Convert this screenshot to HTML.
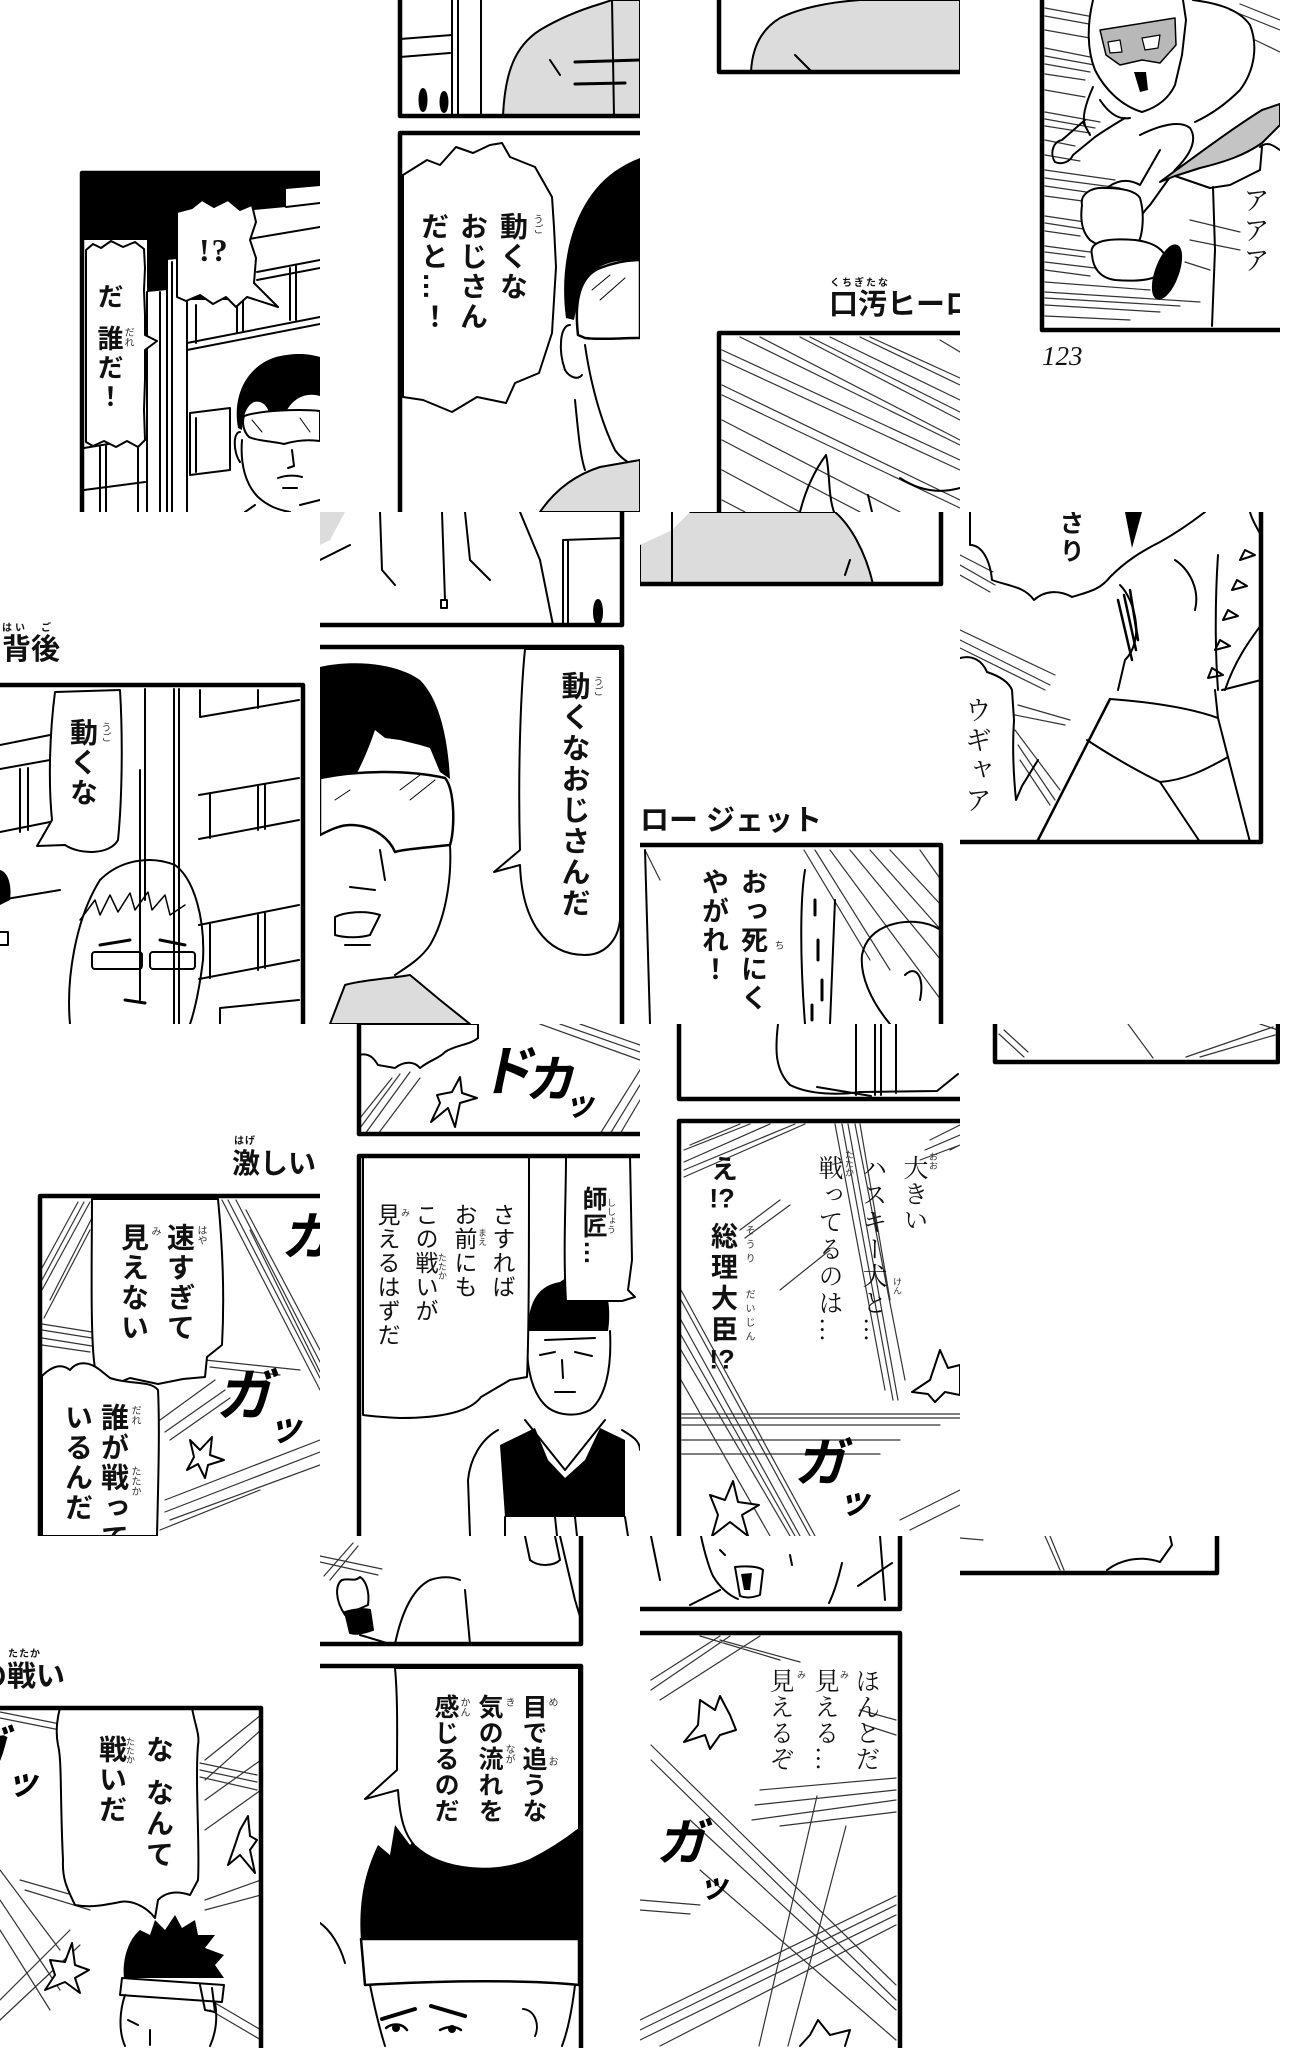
<!DOCTYPE html>
<html><head><meta charset="utf-8">
<style>
*{margin:0;padding:0}
html,body{width:1303px;height:2048px;background:#fff;overflow:hidden}
body{position:relative}
.t{position:absolute;width:320px;height:512px;overflow:hidden}
.i{position:absolute;width:1303px;height:2048px}
.i>svg{position:absolute;left:0;top:0}
.v{position:absolute;writing-mode:vertical-rl;white-space:nowrap;line-height:1;font-family:"Liberation Sans","Noto Sans CJK JP",sans-serif;color:#111}
.b{font-weight:700}
.m{font-family:"Liberation Serif","Noto Serif CJK SC",serif;font-weight:400}
.r{font-size:10px;color:#333;font-weight:400}
.h{position:absolute;white-space:nowrap;line-height:1;font-family:"Liberation Sans","Noto Sans CJK JP",sans-serif;font-weight:700;color:#111}
.x{position:absolute;white-space:nowrap;line-height:1;font-family:"Liberation Sans","Noto Sans CJK JP",sans-serif;font-weight:700;transform:skewX(-12deg);color:#000}
.s{stroke-width:1.2;stroke:#333}
.u{text-combine-upright:all}
</style></head><body>

<!-- ROW 0 -->
<div class="t" style="left:0;top:0"><div class="i" style="left:0;top:0">
<svg width="1303" height="2048" fill="none" stroke="#000" stroke-width="2" stroke-linejoin="round" stroke-linecap="round">
<path d="M82,173 L320,173 L320,186 L286,189 L286,207 L243,211 L243,300 L187,300 L187,258 L167,260 L167,290 L147,292 L147,240 L82,240 Z" fill="#000" stroke="none"/>
<path d="M243,211 L243,240 L320,227 M286,207 L320,203"/>
<path d="M257,272 L320,260 M257,280 L320,268 M187,343 L320,317 M187,350 L320,324"/>
<path d="M196,305 L196,343 M237,300 L237,333 M243,300 L243,332 M290,268 L290,320 M296,266 L296,320"/>
<path d="M167,260 L167,512 M187,258 L187,512 M172,262 L172,512 M147,292 L147,512 M160,292 L160,512"/>
<path d="M190,413 L230,408 L230,470 L190,475 Z M196,418 L196,472"/>
<path d="M84,448 L145,438 M84,490 L145,482 M100,447 L100,512 M106,446 L106,512 M138,440 L138,512"/>
<path d="M238,428 C232,395 247,366 276,357 C296,352 310,354 320,357 L320,396 C306,392 294,398 287,410 C282,420 276,430 270,433 L270,418 C269,406 262,400 254,402 C246,406 243,416 242,430 Z" fill="#000" stroke="none"/>
<path d="M244,416 C262,410 300,409 320,411 L320,441 C306,439 294,441 284,444 C272,441 257,441 249,437 C243,431 242,422 244,416 Z" fill="#fff"/>
<path d="M252,420 L262,432 M300,418 L310,432" stroke-width="1"/>
<path d="M240,432 C233,432 233,452 240,462 M242,440 C240,465 246,485 258,497 C268,506 278,510 290,512"/>
<path d="M292,450 L294,466 L288,468 M278,478 C286,475 296,475 302,477 M283,488 L297,488 M255,505 L245,512 M300,505 L320,500"/>
<path d="M86,250 L93,244 L101,248 L111,241 L123,247 L135,242 L144,249 L145,268 L144,290 L145,315 L145,335 L157,341 L145,350 L145,380 L144,410 L145,440 L138,447 L127,441 L116,447 L104,441 L93,446 L86,442 Z" fill="#fff"/>
<path d="M177,212 L192,208 L202,200 L214,207 L228,200 L240,210 L252,205 L256,222 L250,240 L256,258 L254,283 L278,307 L247,297 L236,307 L226,297 L213,304 L200,295 L186,301 L177,297 Z" fill="#fff"/>
<rect x="82" y="173" width="400" height="500" stroke-width="4.5"/>
</svg>
<div class="h" style="left:199px;top:234px;font-family:'Liberation Serif',serif;font-size:32px;letter-spacing:2px">!?</div>
<div class="v b" style="left:96px;top:283px;font-size:26px">だ</div>
<div class="v b" style="left:96px;top:325px;font-size:26px;letter-spacing:3px">誰だ！</div>
<div class="v r" style="left:122px;top:327px">だれ</div>
</div></div>

<div class="t" style="left:320px;top:0"><div class="i" style="left:-320px;top:0">
<svg width="1303" height="2048" fill="none" stroke="#000" stroke-width="2" stroke-linejoin="round" stroke-linecap="round">
<path d="M400,39 L452,35 M400,57 L450,53 M452,0 L452,116 M458,0 L458,116 M481,0 L481,116"/>
<ellipse cx="423" cy="100" rx="3.5" ry="11" fill="#000"/>
<ellipse cx="444" cy="102" rx="3.5" ry="10" fill="#000"/>
<path d="M503,116 C505,72 515,46 540,30 C560,18 580,10 600,4 L612,0 L640,0 L640,116 Z" fill="#dcdcdc"/>
<path d="M612,0 L614,116 M550,60 L560,75"/>
<path d="M575,62 L640,60 M575,84 L625,83" stroke-width="3"/>
<path d="M400,0 V116 H660" stroke-width="4.5"/>
<path d="M566,318 C558,260 575,195 620,168 C628,163 635,160 640,158 L640,262 C625,258 605,262 595,270 C585,280 578,300 574,320 Z" fill="#000" stroke="none"/>
<path d="M578,335 C574,300 580,276 600,268 C615,262 630,260 640,260 L640,338 C620,338 600,340 585,338 Z" fill="#fff" stroke-width="2.5"/>
<path d="M592,290 L610,275 M600,300 L625,278" stroke-width="1"/>
<path d="M570,325 C560,325 558,350 565,370 C570,378 578,380 582,375"/>
<path d="M585,345 C590,380 600,420 615,450 C622,460 632,465 640,468 M575,400 C578,430 580,455 585,470"/>
<path d="M540,512 C555,490 575,475 600,467 L640,460 L640,512 Z" fill="#dcdcdc"/>
<path d="M403,175 L427,160 L440,165 L456,147 L473,153 L490,145 L502,143 L510,157 L535,167 L552,197 L554,227 L556,267 L552,333 L539,373 L515,383 L506,403 L477,397 L452,412 L423,400 L403,397 Z" fill="#fff"/>
<rect x="400" y="133" width="400" height="500" stroke-width="4.5"/>
</svg>
<div class="v b" style="left:498px;top:212px;font-size:28px;letter-spacing:2px">動くな</div>
<div class="v b" style="left:458px;top:212px;font-size:28px;letter-spacing:2px">おじさん</div>
<div class="v b" style="left:419px;top:212px;font-size:28px;letter-spacing:2px">だと…！</div>
<div class="v r" style="left:531px;top:214px">うご</div>
</div></div>

<div class="t" style="left:640px;top:0"><div class="i" style="left:-640px;top:0">
<svg width="1303" height="2048" fill="none" stroke="#000" stroke-width="2" stroke-linejoin="round" stroke-linecap="round">
<path d="M751,72 C752,50 760,30 780,18 C800,8 830,2 860,0 L960,0 L960,72 Z" fill="#dcdcdc"/>
<path d="M795,55 L812,72"/>
<path d="M719,0 V72 H980" stroke-width="4.5"/>
<g class="s">
<path d="M722,360 L960,470 M722,385 L960,500 M722,420 L900,512 M760,337 L960,440 M800,337 L960,420 M810,337 L960,412 M830,337 L960,400 M722,470 L800,512 M722,500 L745,512 M860,337 L960,385 M870,337 L960,378 M940,340 L960,352 M722,440 L860,512 M722,395 L960,508 M740,337 L960,445 M722,350 L960,460"/>
</g>
<path d="M800,512 C806,488 815,470 826,455 C830,472 828,495 834,512 M868,495 L872,512 M900,478 C915,488 935,495 960,488"/>
<rect x="719" y="333" width="400" height="300" stroke-width="4.5"/>
</svg>
<div class="h" style="left:829px;top:291px;font-size:29px">口汚ヒーロ</div>
<div class="h r" style="left:830px;top:279px;letter-spacing:2px">くちぎたな</div>
</div></div>

<div class="t" style="left:960px;top:0"><div class="i" style="left:-960px;top:0">
<svg width="1303" height="2048" fill="none" stroke="#000" stroke-width="2" stroke-linejoin="round" stroke-linecap="round">
<g class="s">
<path d="M1045,8 L1110,20 M1045,16 L1100,26 M1045,48 L1095,58 M1045,56 L1100,66 M1045,64 L1090,72 M1045,74 L1085,80 M1045,112 L1100,122 M1045,119 L1095,128 M1045,126 L1090,133 M1045,170 L1115,180 M1045,178 L1120,188 M1045,186 L1100,194 M1045,196 L1090,202 M1045,216 L1085,222 M1045,223 L1090,230 M1045,231 L1080,236 M1045,246 L1090,252 M1045,252 L1085,257 M1045,262 L1095,268 M1045,270 L1090,276 M1045,292 L1200,302 M1045,298 L1180,306 M1045,305 L1160,312 M1045,316 L1130,320 M1230,10 L1280,30 M1240,4 L1280,20 M1255,40 L1280,52 M1190,220 L1240,232 M1190,240 L1240,250 M1185,262 L1210,270 M1045,30 L1090,38 M1045,90 L1085,97 M1045,140 L1075,146 M1045,155 L1080,161 M1045,282 L1150,290"/>
</g>
<path d="M1093,0 C1087,25 1087,50 1095,70 C1105,90 1122,106 1142,112 C1155,108 1168,100 1175,85 L1182,55 L1186,20 L1183,0" fill="#fff"/>
<path d="M1100,30 L1175,18 L1176,45 L1160,63 L1142,60 L1120,65 L1106,55 Z" fill="#b8b8b8" stroke-width="1.5"/>
<path d="M1108,42 L1120,40 L1122,52 L1110,53 Z M1142,38 L1160,35 L1158,48 L1145,50 Z" fill="#fff" stroke-width="1.2"/>
<path d="M1134,72 L1140,92 L1148,90 L1146,72 Z" fill="#000" stroke="none"/>
<path d="M1093,87 C1085,105 1082,118 1085,125 M1100,100 C1110,115 1120,120 1130,118"/>
<path d="M1085,120 L1062,140 C1052,142 1050,155 1055,162 C1062,165 1070,162 1073,155 L1095,137 C1105,130 1115,124 1125,118 M1083,122 L1090,135"/>
<path d="M1193,0 C1215,3 1238,8 1250,25 C1258,45 1255,70 1240,90 C1225,105 1210,115 1195,122"/>
<path d="M1140,135 C1160,125 1180,120 1190,128 C1198,140 1190,155 1175,170 L1150,205 C1140,215 1135,225 1140,235 M1105,190 C1115,180 1128,178 1140,185 L1160,150"/>
<path d="M1082,205 C1080,195 1090,187 1105,188 C1120,188 1135,190 1140,198 C1145,215 1143,240 1135,247 C1120,250 1100,248 1090,240 C1082,232 1080,220 1082,205 Z" fill="#fff"/>
<path d="M1092,255 C1088,240 1110,238 1135,240 C1160,243 1170,255 1165,268 C1160,280 1140,282 1115,280 C1100,278 1093,268 1092,255 Z" fill="#fff"/>
<ellipse cx="1167" cy="272" rx="11" ry="28" transform="rotate(20 1167 272)" fill="#000"/>
<path d="M1160,182 C1190,160 1230,130 1262,110 L1280,104 L1280,125 L1262,143 C1245,155 1225,162 1200,168 L1175,176 Z" fill="#c4c4c4"/>
<path d="M1213,187 L1215,250 L1212,326 M1260,147 C1268,140 1275,147 1280,150 M1175,176 L1210,188 L1230,185 L1260,170 L1262,147"/>
<path d="M1042,0 V330 H1290" stroke-width="4.5"/>
</svg>
<div class="v m" style="left:1240px;top:186px;font-size:27px;letter-spacing:3px">アアア</div>
<div class="h" style="left:1042px;top:343px;font-family:'Liberation Serif',serif;font-weight:400;font-style:italic;font-size:27px">123</div>
</div></div>

<!-- ROW 1 -->
<div class="t" style="left:0;top:512px"><div class="i" style="left:0;top:-512px">
<svg width="1303" height="2048" fill="none" stroke="#000" stroke-width="2" stroke-linejoin="round" stroke-linecap="round">
<path d="M200,690 L200,717 L299,700 M258,690 L258,708"/>
<path d="M199,795 L299,778 M199,839 L299,820 M210,793 L210,838 M258,786 L258,830 M265,785 L265,829"/>
<path d="M199,925 L299,905 M199,979 L299,960 M210,923 L210,978 M258,915 L258,970 M265,913 L265,968"/>
<path d="M220,1024 L220,1008 L299,1000"/>
<path d="M145,689 L145,900 M174,689 L174,1024 M179,689 L179,1024 M140,770 L140,1000"/>
<path d="M0,745 L50,735 M0,769 L50,760 M0,832 L50,822 M20,769 L20,832 M28,768 L28,830 M0,900 L60,890"/>
<path d="M0,870 C8,872 12,885 10,900 L0,905 Z" fill="#000" stroke="none"/>
<path d="M0,932 L8,932 L8,945 L0,945"/>
<path d="M70,1024 C66,980 75,920 100,880 C120,860 150,855 175,865 C195,880 205,920 203,960 C200,985 195,1010 190,1024"/>
<path d="M80,920 L95,900 L100,915 L110,895 L118,912 L130,893 L135,910 L148,892 L152,910 L165,895 L170,915 L185,905" stroke-width="1.5"/>
<rect x="92" y="952" width="50" height="17" rx="3"/>
<rect x="150" y="952" width="45" height="17" rx="3"/>
<path d="M100,945 L130,940 M160,940 L185,945 M125,1000 L145,1003" stroke-width="3"/>
<path d="M55,692 L120,690 C123,740 122,800 118,840 C110,855 80,855 65,845 L37,846 L52,820 C48,780 50,730 55,692 Z" fill="#fff"/>
<path d="M0,685 H303 V1100" stroke-width="4.5"/>
</svg>
<div class="h" style="left:2px;top:636px;font-size:29px">背後</div>
<div class="h r" style="left:2px;top:624px;letter-spacing:3px">はい　ご</div>
<div class="v b" style="left:68px;top:718px;font-size:28px;letter-spacing:2px">動くな</div>
<div class="v r" style="left:99px;top:722px">うご</div>
</div></div>

<div class="t" style="left:320px;top:512px"><div class="i" style="left:-320px;top:-512px">
<svg width="1303" height="2048" fill="none" stroke="#000" stroke-width="2" stroke-linejoin="round" stroke-linecap="round">
<path d="M320,512 L345,512 L330,540 L320,545 Z" fill="#dcdcdc" stroke="none"/>
<path d="M350,545 L320,560 M380,512 L382,570 L395,585 M465,512 L470,560 L490,580 M442,512 L445,600 M520,512 L540,560 L553,625 M563,540 L563,625 M568,540 L568,625 M563,540 L622,538"/>
<rect x="441" y="600" width="6" height="8"/>
<ellipse cx="598" cy="612" rx="4" ry="12" fill="#000"/>
<rect x="200" y="400" width="422" height="225" stroke-width="4.5"/>
<path d="M320,667 C350,660 395,662 420,680 C440,700 448,740 450,779 L440,772 L430,748 L420,745 L400,740 L385,738 L375,730 C365,760 350,790 332,812 L320,820 Z" fill="#000" stroke="none"/>
<path d="M320,778 C360,770 410,770 445,778 C455,790 455,830 450,845 C420,848 400,850 395,852 C390,840 375,825 350,825 C340,825 330,830 320,835 Z" fill="#fff" stroke-width="2.5"/>
<path d="M400,790 L420,775 M410,800 L435,780 M335,800 L350,790" stroke-width="1"/>
<path d="M380,850 L385,880 M350,887 L375,890 M335,917 C345,912 365,910 380,915 L370,935 C360,938 345,938 335,935 Z M345,945 L370,945"/>
<path d="M450,845 C452,880 445,920 430,945 C420,960 405,968 395,975"/>
<path d="M330,1024 L345,985 C360,980 395,978 410,975 L440,1000 L470,1024 Z" fill="#dcdcdc"/>
<path d="M525,649 C520,700 518,780 520,850 L494,872 L520,865 C522,920 545,955 585,955 C605,955 618,940 620,920 L620,649 Z" fill="#fff"/>
<rect x="200" y="647" width="422" height="500" stroke-width="4.5"/>
</svg>
<div class="v b" style="left:558px;top:671px;font-size:29px;letter-spacing:2px">動くなおじさんだ</div>
<div class="v r" style="left:591px;top:676px">うご</div>
</div></div>

<div class="t" style="left:640px;top:512px"><div class="i" style="left:-640px;top:-512px">
<svg width="1303" height="2048" fill="none" stroke="#000" stroke-width="2" stroke-linejoin="round" stroke-linecap="round">
<path d="M640,512 L835,512 C850,525 865,550 873,584 L640,584 Z" fill="#dcdcdc"/>
<path d="M640,512 L690,512 L672,530 L640,545 Z" fill="#fff" stroke="none"/>
<path d="M672,512 L672,584 M850,560 L845,575"/>
<rect x="500" y="400" width="441" height="184" stroke-width="4.5"/>
<g class="s">
<path d="M804,850 L870,960 M815,850 L890,970 M830,850 L941,1000 M850,850 L941,960 M870,850 L941,930 M890,850 L941,905 M920,850 L941,880 M645,850 L660,880"/>
</g>
<path d="M890,1024 C870,1000 860,975 862,955 C865,940 875,930 890,925 C905,920 925,920 941,930 M905,975 C915,965 925,975 920,1000"/>
<path d="M805,870 C800,900 800,960 805,1024 M835,900 L830,1024 M645,850 L650,1024"/>
<path d="M815,900 L815,915 M818,940 L818,960 M822,980 L822,1000 M812,1005 L812,1020" stroke-width="3"/>
<rect x="500" y="845" width="441" height="400" stroke-width="4.5"/>
</svg>
<div class="h" style="left:640px;top:807px;font-size:29px">ロー ジェット</div>
<div class="v b" style="left:738px;top:868px;font-size:27px;letter-spacing:2px">おっ死にく</div>
<div class="v b" style="left:699px;top:868px;font-size:27px;letter-spacing:2px">やがれ！</div>
<div class="v r" style="left:772px;top:940px">ち</div>
</div></div>

<div class="t" style="left:960px;top:512px"><div class="i" style="left:-960px;top:-512px">
<svg width="1303" height="2048" fill="none" stroke="#000" stroke-width="2" stroke-linejoin="round" stroke-linecap="round">
<g class="s">
<path d="M960,555 L993,572 M960,565 L995,585 M960,575 L990,592 M960,630 L1055,675 M960,640 L1050,685 M960,648 L1045,690 M1018,705 L1070,720 M1015,715 L1065,725 M1015,730 L1060,790 M1018,745 L1055,800 M1020,760 L1050,805"/>
</g>
<path d="M970,512 L970,545 C982,545 990,560 992,580 C1008,586 1024,586 1034,600 C1045,590 1060,590 1072,597 C1088,592 1100,590 1110,577 C1125,562 1140,552 1160,542 C1178,532 1192,522 1205,512"/>
<path d="M960,658 C972,655 982,660 987,672 C996,675 1008,680 1012,690 L1014,720 C1012,750 1014,780 1016,800 L1022,786 L1038,760"/>
<path d="M1125,512 L1142,512 L1132,548 Z" fill="#000" stroke="none"/>
<path d="M1118,600 L1132,660 M1124,595 L1136,650 M1130,590 L1138,640" stroke-width="2.5"/>
<path d="M1110,699 L1037,842" stroke-width="2.5"/>
<path d="M1110,699 C1150,702 1190,708 1218,718 L1228,757 C1205,770 1185,780 1160,782 C1135,770 1105,752 1087,740"/>
<path d="M1160,782 L1200,842 M1228,757 L1250,842 M1218,718 L1215,690 M1218,555 C1215,600 1215,650 1218,690"/>
<path d="M1120,585 C1135,600 1145,640 1125,660 L1118,690 M1175,560 C1190,570 1200,590 1195,610"/>
<path d="M1240,560 L1255,555 L1245,550 Z M1232,590 L1247,586 L1237,580 Z M1223,620 L1238,616 L1228,610 Z M1215,650 L1230,646 L1220,640 Z M1208,678 L1223,675 L1212,668 Z"/>
<path d="M1225,690 C1235,660 1250,640 1261,625 M1222,690 L1261,680 M1250,512 C1252,520 1258,530 1261,535"/>
<rect x="900" y="400" width="361" height="442" stroke-width="4.5"/>
</svg>
<div class="v b" style="left:1057px;top:510px;font-size:25px;letter-spacing:3px">さり</div>
<div class="v m" style="left:962px;top:696px;font-size:27px;letter-spacing:3px">ウギャア</div>
</div></div>

<!-- ROW 2 -->
<div class="t" style="left:0;top:1024px"><div class="i" style="left:0;top:-1024px">
<svg width="1303" height="2048" fill="none" stroke="#000" stroke-width="2" stroke-linejoin="round" stroke-linecap="round">
<g class="s">
<path d="M90,1202 L42,1290 M84,1202 L42,1280 M78,1202 L42,1268 M96,1210 L50,1300 M90,1230 L44,1318 M42,1324 L92,1332 M42,1330 L92,1338 M42,1338 L92,1346 M42,1345 L90,1352 M222,1200 L320,1390 M228,1200 L320,1378 M236,1200 L320,1362 M246,1210 L320,1350 M250,1230 L320,1372 M160,1420 L215,1380 M165,1432 L225,1390 M170,1440 L230,1398 M165,1500 L320,1440 M165,1512 L320,1452 M170,1520 L320,1465 M160,1530 L260,1490 M205,1360 L300,1370 M210,1367 L280,1375"/>
</g>
<path d="M92,1199 L218,1199 C222,1240 225,1290 222,1345 L207,1357 L205,1377 L183,1379 L158,1384 L130,1378 L115,1384 C105,1385 100,1375 95,1368 C90,1340 92,1250 92,1199 Z" fill="#fff"/>
<path d="M42,1376 C50,1368 60,1362 70,1370 C78,1360 90,1362 100,1370 L110,1378 C130,1385 150,1380 158,1390 C160,1430 158,1490 157,1536 L42,1536 Z" fill="#fff"/>
<path d="M190,1440 L200,1450 L212,1437 L210,1455 L224,1460 L208,1465 L205,1478 L198,1464 L187,1470 L194,1457 Z" fill="#fff"/>
<rect x="40" y="1196" width="400" height="500" stroke-width="4.5"/>
</svg>
<div class="h" style="left:232px;top:1150px;font-size:28px">激しい</div>
<div class="h r" style="left:234px;top:1137px;letter-spacing:1px">はげ</div>
<div class="v b" style="left:165px;top:1223px;font-size:28px;letter-spacing:2px">速すぎて</div>
<div class="v b" style="left:119px;top:1223px;font-size:28px;letter-spacing:2px">見えない</div>
<div class="v r" style="left:195px;top:1225px">はや</div>
<div class="v r" style="left:149px;top:1226px">み</div>
<div class="v b" style="left:99px;top:1403px;font-size:28px;letter-spacing:2px">誰が戦って</div>
<div class="v b" style="left:63px;top:1403px;font-size:28px;letter-spacing:2px">いるんだ</div>
<div class="v r" style="left:129px;top:1405px">だれ</div>
<div class="v r" style="left:129px;top:1466px">たたか</div>
<div class="x" style="left:284px;top:1212px;font-size:52px">カ</div>
<div class="x" style="left:220px;top:1368px;font-size:56px">ガ</div>
<div class="x" style="left:270px;top:1410px;font-size:36px">ッ</div>
</div></div>

<div class="t" style="left:320px;top:1024px"><div class="i" style="left:-320px;top:-1024px">
<svg width="1303" height="2048" fill="none" stroke="#000" stroke-width="2" stroke-linejoin="round" stroke-linecap="round">
<g class="s">
<path d="M410,1072 L365,1134 M400,1074 L360,1128 M392,1078 L360,1118 M420,1078 L378,1134 M540,1024 L640,1060 M560,1024 L640,1052 M580,1024 L640,1045 M600,1134 L640,1070 M610,1134 L640,1085 M620,1134 L640,1100"/>
</g>
<path d="M359,1024 L478,1024 L478,1038 C470,1045 455,1045 445,1052 C440,1058 430,1060 420,1068 C415,1062 405,1060 395,1068 L378,1065 C375,1060 370,1052 359,1055 Z" fill="#fff"/>
<path d="M437,1095 L452,1092 L460,1077 L462,1093 L477,1098 L460,1103 L455,1127 L448,1108 L431,1122 L440,1103 Z" fill="#fff"/>
<rect x="359" y="900" width="400" height="234" stroke-width="4.5"/>
<path d="M528,1331 C528,1300 540,1285 560,1282 C575,1270 600,1275 605,1290 C610,1300 610,1320 608,1331 Z" fill="#000" stroke="none"/>
<path d="M528,1331 C525,1360 530,1390 545,1405 C555,1415 575,1418 590,1410 C605,1398 612,1370 610,1331"/>
<path d="M540,1355 L555,1352 M575,1352 L592,1356 M562,1360 L563,1378 M555,1392 L575,1392 M545,1340 L595,1338" />
<path d="M525,1420 L565,1470 L605,1420 M498,1430 C480,1440 470,1460 468,1480 L470,1536 M622,1430 C630,1435 640,1440 640,1450"/>
<path d="M500,1445 L535,1428 L548,1460 L565,1478 L585,1460 L600,1428 L625,1440 L625,1517 L505,1517 Z" fill="#000" stroke="none"/>
<path d="M505,1517 L505,1536 M555,1517 L557,1536 M575,1517 L577,1536 M625,1517 L628,1536"/>
<path d="M363,1156 L529,1156 C529,1250 529,1330 527,1377 L510,1380 L481,1397 C470,1412 440,1418 400,1418 C380,1417 370,1416 363,1415 Z" fill="#fff"/>
<path d="M566,1156 L630,1156 L632,1260 L628,1290 L635,1297 L622,1301 L566,1301 C563,1250 566,1200 566,1156 Z" fill="#fff"/>
<rect x="359" y="1156" width="400" height="500" stroke-width="4.5"/>
</svg>
<div class="x" style="left:483px;top:1045px;font-size:54px">ド</div>
<div class="x" style="left:528px;top:1055px;font-size:50px">カ</div>
<div class="x" style="left:566px;top:1088px;font-size:32px">ッ</div>
<div class="v" style="left:490px;top:1203px;font-size:23px;letter-spacing:1px">さすれば</div>
<div class="v" style="left:452px;top:1203px;font-size:23px;letter-spacing:1px">お前にも</div>
<div class="v" style="left:413px;top:1203px;font-size:23px;letter-spacing:1px">この戦いが</div>
<div class="v" style="left:375px;top:1203px;font-size:23px;letter-spacing:1px">見えるはずだ</div>
<div class="v r" style="left:477px;top:1228px;font-size:9px">まえ</div>
<div class="v r" style="left:437px;top:1253px;font-size:9px">たたか</div>
<div class="v r" style="left:400px;top:1208px;font-size:9px">み</div>
<div class="v b" style="left:580px;top:1186px;font-size:25px;letter-spacing:2px">師匠…</div>
<div class="v r" style="left:606px;top:1198px;font-size:9px">ししょう</div>
</div></div>

<div class="t" style="left:640px;top:1024px"><div class="i" style="left:-640px;top:-1024px">
<svg width="1303" height="2048" fill="none" stroke="#000" stroke-width="2" stroke-linejoin="round" stroke-linecap="round">
<path d="M778,1024 C775,1050 775,1070 790,1085 C810,1095 840,1095 860,1092 L937,1091 L958,1074 M856,1024 L856,1095 M875,1024 L875,1095 M881,1024 L881,1095 M896,1024 L896,1093 M817,1087 L871,1096"/>
<rect x="679" y="900" width="400" height="199" stroke-width="4.5"/>
<g class="s">
<path d="M805,1124 L684,1177 M795,1124 L684,1170 M770,1124 L684,1162 M750,1124 L684,1150 M740,1124 L690,1145 M830,1250 L780,1290 M842,1124 L893,1400 M848,1124 L898,1400 M855,1124 L905,1380 M860,1124 L890,1300 M681,1300 L810,1536 M681,1320 L800,1536 M681,1350 L790,1536 M681,1380 L770,1536 M682,1414 L960,1414 M682,1418 L960,1418 M682,1425 L940,1425 M682,1440 L900,1440 M682,1454 L880,1454 M930,1140 L960,1125 M925,1150 L960,1135 M920,1160 L960,1145 M900,1520 L960,1490 M910,1530 L960,1505 M835,1124 L885,1390 M681,1290 L815,1536 M681,1335 L795,1536 M950,1150 L960,1145 M780,1200 L740,1230 M790,1205 L745,1238"/>
</g>
<path d="M912,1392 L930,1380 L940,1350 L948,1368 L960,1365 L960,1395 L945,1392 L935,1402 L928,1394 Z" fill="#fff"/>
<path d="M710,1495 L725,1500 L733,1481 L738,1502 L759,1505 L742,1515 L748,1536 L730,1522 L712,1536 L718,1515 Z" fill="#fff"/>
<rect x="679" y="1121" width="400" height="500" stroke-width="4.5"/>
</svg>
<div class="v m" style="left:901px;top:1155px;font-size:25px;letter-spacing:1px">大きい</div>
<div class="v m" style="left:860px;top:1155px;font-size:25px;letter-spacing:2px">ハスキー犬と…</div>
<div class="v m" style="left:816px;top:1155px;font-size:25px;letter-spacing:2px">戦ってるのは…</div>
<div class="v r" style="left:928px;top:1152px;font-size:9px">おお</div>
<div class="v r" style="left:844px;top:1150px;font-size:9px">たたか</div>
<div class="v r" style="left:892px;top:1277px;font-size:9px">けん</div>
<div class="v b" style="left:708px;top:1155px;font-size:27px;letter-spacing:3px">え<span class="u">!?</span></div>
<div class="v b" style="left:708px;top:1222px;font-size:27px;letter-spacing:4px">総理大臣<span class="u">!?</span></div>
<div class="v r" style="left:743px;top:1225px;letter-spacing:4px">そうり</div>
<div class="v r" style="left:743px;top:1289px;letter-spacing:4px">だいじん</div>
<div class="x" style="left:798px;top:1438px;font-size:52px">ガ</div>
<div class="x" style="left:840px;top:1485px;font-size:34px">ッ</div>
</div></div>

<div class="t" style="left:960px;top:1024px"><div class="i" style="left:-960px;top:-1024px">
<svg width="1303" height="2048" fill="none" stroke="#000" stroke-width="2" stroke-linejoin="round" stroke-linecap="round">
<g class="s"><path d="M999,1034 L1024,1057 M1004,1030 L1028,1052 M1128,1024 L1153,1058 M1186,1057 L1273,1027 M1200,1057 L1275,1035 M1260,1024 L1278,1030"/></g>
<path d="M995,1024 V1062 H1278 V1024" stroke-width="4.5"/>
</svg>
</div></div>

<!-- ROW 3 -->
<div class="t" style="left:0;top:1536px"><div class="i" style="left:0;top:-1536px">
<svg width="1303" height="2048" fill="none" stroke="#000" stroke-width="2" stroke-linejoin="round" stroke-linecap="round">
<g class="s">
<path d="M0,1712 L65,1725 M0,1718 L60,1730 M205,1760 L261,1715 M205,1780 L261,1730 M205,1800 L261,1760 M205,1830 L261,1790 M200,1763 L257,1775 M200,1770 L257,1782 M200,1777 L257,1790 M0,1870 L60,1950 M0,1900 L60,1990 M0,1930 L50,2010 M0,2000 L70,1930 M0,2020 L80,1945 M20,1880 L90,1900 M25,1890 L90,1910 M205,1900 L261,1880 M205,1910 L261,1895 M210,2000 L261,2030 M210,2010 L261,2040"/>
</g>
<path d="M60,1708 L192,1708 C195,1725 200,1735 198,1745 C195,1780 200,1850 198,1880 L190,1895 C175,1890 165,1893 158,1900 L155,1918 C145,1905 130,1900 120,1902 C105,1905 90,1908 75,1905 C68,1890 62,1880 63,1860 C60,1800 62,1760 58,1745 C55,1730 58,1715 60,1708 Z" fill="#fff"/>
<path d="M240,1830 L248,1816 L250,1836 L257,1840 L250,1850 L255,1873 L240,1855 L228,1865 L235,1845 Z" fill="#fff"/>
<path d="M50,1960 L65,1962 L72,1943 L75,1965 L89,1970 L75,1978 L80,1993 L65,1982 L45,1990 L55,1975 Z" fill="#fff"/>
<path d="M124,1978 C122,1960 128,1940 140,1930 L150,1935 L155,1920 L165,1930 L175,1915 L182,1928 L195,1920 L198,1935 L215,1935 L205,1948 L224,1955 L215,1965 L224,1978 Z" fill="#000" stroke="none"/>
<path d="M122,1978 L224,1985 L222,2002 L120,1995 Z" fill="#fff"/>
<path d="M200,1985 L205,2010 L215,2012 L212,1988"/>
<path d="M125,1995 C120,2010 118,2030 125,2046 M128,2020 L138,2025 M150,2030 L150,2045 M215,2002 C218,2020 215,2035 210,2046"/>
<path d="M0,1708 H261 V2048" stroke-width="4.5" stroke-linecap="butt"/>
</svg>
<div class="h" style="left:-22px;top:1663px;font-size:29px">の戦い</div>
<div class="h r" style="left:8px;top:1650px;letter-spacing:1px">たたか</div>
<div class="v b" style="left:144px;top:1735px;font-size:28px">な</div>
<div class="v b" style="left:144px;top:1778px;font-size:28px;letter-spacing:3px">なんて</div>
<div class="v b" style="left:97px;top:1735px;font-size:28px;letter-spacing:2px">戦いだ</div>
<div class="v r" style="left:125px;top:1737px;font-size:9px">たたか</div>
<div class="x" style="left:8px;top:1766px;font-size:34px">ッ</div>
<div class="x" style="left:-36px;top:1726px;font-size:48px">ガ</div>
</div></div>

<div class="t" style="left:320px;top:1536px"><div class="i" style="left:-320px;top:-1536px">
<svg width="1303" height="2048" fill="none" stroke="#000" stroke-width="2" stroke-linejoin="round" stroke-linecap="round">
<g class="s"><path d="M320,1556 L382,1569 M320,1562 L378,1575 M324,1576 L353,1543 M330,1580 L358,1546"/></g>
<path d="M345,1615 C335,1600 335,1585 342,1580 C350,1578 355,1582 360,1577 C365,1580 370,1590 368,1605 Z" fill="#fff"/>
<path d="M345,1612 C352,1610 362,1608 370,1610 L373,1630 C365,1633 355,1635 350,1633 Z" fill="#000"/>
<path d="M360,1635 L390,1644 M395,1644 C400,1620 410,1590 430,1580 C445,1575 455,1578 460,1580 M465,1590 L470,1644 M525,1536 L530,1560 C540,1568 555,1565 560,1560 L555,1536 M560,1536 L575,1600 L581,1620"/>
<path d="M320,1644 H581 V1536" stroke-width="4.5"/>
<path d="M361,1940 C358,1900 366,1870 378,1845 L390,1855 L395,1825 L410,1845 L430,1820 L579,1810 L579,1939 Z" fill="#000" stroke="none"/>
<path d="M395,1668 C398,1700 397,1740 397,1770 L365,1799 L398,1790 C400,1820 405,1835 415,1846 C430,1860 450,1866 470,1868 C490,1870 510,1868 530,1860 C550,1850 565,1840 579,1829 L579,1668 Z" fill="#fff"/>
<path d="M361,1939 L579,1939 L579,1985 C530,1980 450,1980 365,1985 Z" fill="#fff" stroke-width="2.5"/>
<path d="M370,1985 C375,2010 380,2030 385,2046 M575,1985 C572,2010 568,2030 562,2046 M523,2009 C535,2010 540,2025 535,2036"/>
<path d="M382,2019 L415,2009 M431,2006 L465,2016" stroke-width="4"/>
<path d="M386,2028 C392,2023 402,2023 407,2030 M440,2030 C448,2026 456,2026 461,2030" stroke-width="2.5"/>
<circle cx="396" cy="2028" r="3" fill="#000"/><circle cx="452" cy="2029" r="3" fill="#000"/>
<path d="M320,1923 C330,1930 340,1945 345,1963"/>
<path d="M318,1666 H581 V2048" stroke-width="4.5" stroke-linecap="butt"/>
</svg>
<div class="v b" style="left:520px;top:1694px;font-size:25px;letter-spacing:1px">目で追うな</div>
<div class="v b" style="left:476px;top:1694px;font-size:25px;letter-spacing:1px">気の流れを</div>
<div class="v b" style="left:432px;top:1694px;font-size:25px;letter-spacing:1px">感じるのだ</div>
<div class="v r" style="left:546px;top:1697px">め</div>
<div class="v r" style="left:546px;top:1756px">お</div>
<div class="v r" style="left:503px;top:1697px">き</div>
<div class="v r" style="left:503px;top:1744px">なが</div>
<div class="v r" style="left:458px;top:1697px">かん</div>
</div></div>

<div class="t" style="left:640px;top:1536px"><div class="i" style="left:-640px;top:-1536px">
<svg width="1303" height="2048" fill="none" stroke="#000" stroke-width="2" stroke-linejoin="round" stroke-linecap="round">
<path d="M651,1536 L660,1580 M701,1536 C705,1555 710,1570 713,1576 C720,1588 730,1596 738,1599 M842,1563 C838,1580 833,1595 829,1603 M858,1586 L892,1563 M880,1536 L885,1600 M690,1605 L720,1590"/>
<path d="M735,1567 C745,1566 758,1566 763,1570 L760,1595 C752,1598 745,1598 740,1596 Z" fill="#fff"/>
<path d="M741,1574 L752,1573 L750,1590 L744,1590 Z" fill="#000" stroke="none"/>
<path d="M720,1550 L725,1555 M790,1555 L792,1565"/>
<path d="M620,1609 H900 V1536" stroke-width="4.5"/>
<g class="s">
<path d="M651,1690 L730,1636 M651,1680 L720,1636 M660,1700 L760,1636 M700,1636 L780,1660 M720,1640 L800,1662 M760,1790 L896,1778 M755,1805 L896,1790 M752,1820 L896,1800 M780,1826 L896,1812 M651,1745 L896,1985 M651,1760 L896,2000 M690,1820 L896,2010 M700,1870 L896,2040 M640,2020 L896,1896 M640,2030 L896,1905 M640,2040 L896,1915 M660,2046 L896,1925 M817,1796 L759,2046 M846,1826 L788,2046 M640,1900 L700,1905 M640,1910 L690,1914 M860,1710 L896,1720 M865,1725 L896,1735"/>
</g>
<path d="M700,1700 L715,1710 L720,1696 L730,1715 L736,1730 L720,1735 L710,1749 L705,1735 L684,1742 L698,1725 Z" fill="#fff"/>
<path d="M800,2046 L810,2035 L818,2020 L830,2035 L850,2030 L845,2046" fill="#fff"/>
<path d="M620,1633 H900 V2048" stroke-width="4.5" stroke-linecap="butt"/>
</svg>
<div class="v m" style="left:853px;top:1668px;font-size:25px;letter-spacing:1px">ほんとだ</div>
<div class="v m" style="left:812px;top:1668px;font-size:25px;letter-spacing:1px">見える…</div>
<div class="v m" style="left:767px;top:1668px;font-size:25px;letter-spacing:1px">見えるぞ</div>
<div class="v r" style="left:839px;top:1670px;font-size:9px">み</div>
<div class="v r" style="left:796px;top:1670px;font-size:9px">み</div>
<div class="x" style="left:660px;top:1818px;font-size:50px">ガ</div>
<div class="x" style="left:700px;top:1870px;font-size:32px">ッ</div>
</div></div>

<div class="t" style="left:960px;top:1536px"><div class="i" style="left:-960px;top:-1536px">
<svg width="1303" height="2048" fill="none" stroke="#000" stroke-width="2" stroke-linejoin="round" stroke-linecap="round">
<g class="s"><path d="M1045,1536 L1060,1570 M1050,1536 L1064,1570 M960,1538 L983,1540"/></g>
<path d="M1107,1570 C1120,1560 1140,1555 1160,1562 L1172,1545 L1170,1536"/>
<path d="M958,1573 H1217 V1536" stroke-width="4.5"/>
</svg>
</div></div>

</body></html>
